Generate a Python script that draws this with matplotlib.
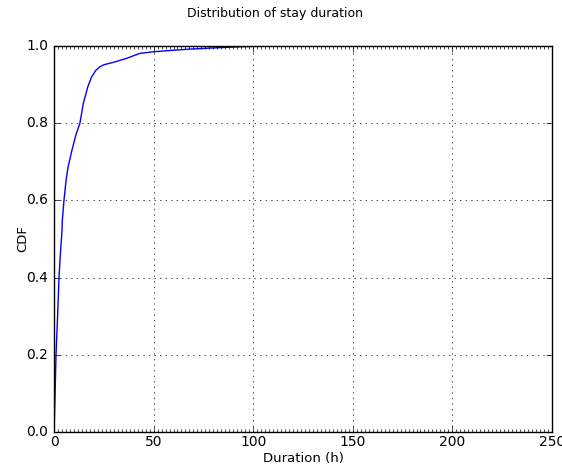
import numpy as np
import matplotlib
matplotlib.use("Agg")
import matplotlib.pyplot as plt
from matplotlib.ticker import MultipleLocator

plt.style.use("classic")

# CDF of stay duration
duration = [0, 0.5, 1.0, 1.8, 2.5, 3.3, 4.0, 4.2, 5.0, 6.0, 7.0, 9.0, 11.0, 13.0,
            14.7, 17.0, 18.9, 21.0, 23.0, 24.8, 30.0, 36.5, 40.0, 43.2, 49.9,
            60.0, 68.3, 80.0, 93.4, 100.0, 120.0, 250.0]
cdf = [0, 0.09, 0.2, 0.3, 0.4, 0.47, 0.52, 0.55, 0.6, 0.65, 0.685, 0.73, 0.77, 0.8,
       0.851, 0.895, 0.92, 0.937, 0.946, 0.951, 0.958, 0.968, 0.975, 0.981, 0.985,
       0.989, 0.992, 0.995, 0.998, 0.999, 1.0, 1.0]

fig = plt.figure(figsize=(5.62, 4.67), dpi=100, facecolor="white")
ax = fig.add_axes([0.0961, 0.0749, 0.886, 0.8266])
ax.plot(duration, cdf, color="blue", lw=1)
ax.set_xlim(0, 250)
ax.set_ylim(0, 1.0)
ax.xaxis.set_minor_locator(MultipleLocator(2))
ax.tick_params(which="minor", axis="x", length=2)
ax.grid(True, which="major")
ax.tick_params(axis="x", labelsize=10, pad=2)
ax.tick_params(axis="y", labelsize=10, pad=4)
ax.set_xlabel("Duration (h)", fontsize=9.5, labelpad=2)
ax.set_ylabel("CDF", fontsize=9.5, labelpad=-2)
fig.suptitle("Distribution of stay duration", fontsize=9, x=0.49, y=0.985)
fig.savefig("out.png", dpi=100, facecolor="white")
